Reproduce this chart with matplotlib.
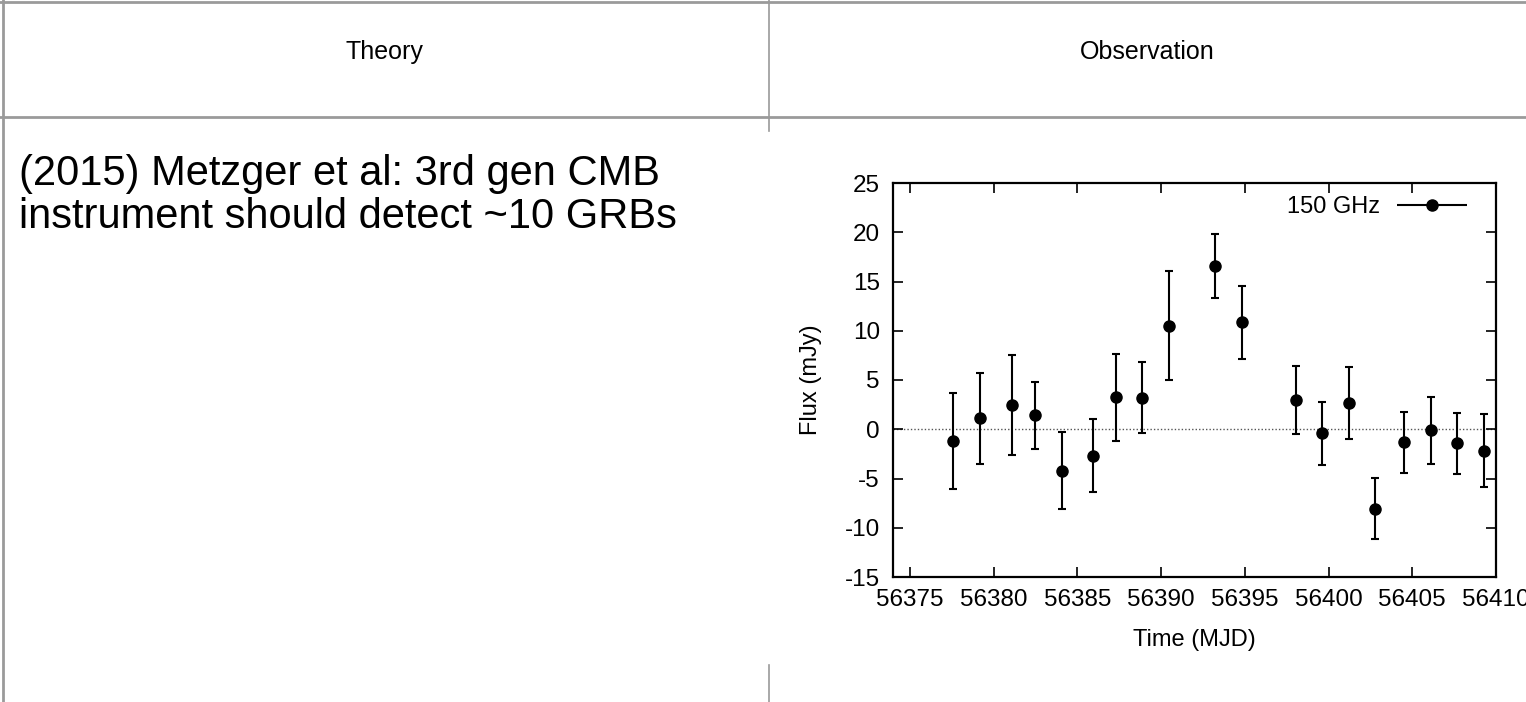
import matplotlib
matplotlib.use('agg')
import matplotlib.pyplot as plt
from matplotlib.lines import Line2D
from matplotlib.container import ErrorbarContainer
from matplotlib.legend_handler import HandlerErrorbar

plt.rcParams['axes.unicode_minus'] = False
plt.rcParams['font.family'] = ['Liberation Sans', 'DejaVu Sans']

# 150 GHz light curve
time_mjd = [56377.6, 56379.2, 56381.1, 56382.5, 56384.1, 56385.95, 56387.3, 56388.85,
            56390.5, 56393.25, 56394.85, 56398.05, 56399.6, 56401.2, 56402.8,
            56404.5, 56406.1, 56407.7, 56409.3]
flux_mjy = [-1.2, 1.1, 2.45, 1.4, -4.2, -2.7, 3.25, 3.2,
            10.5, 16.6, 10.85, 2.95, -0.4, 2.65, -8.05,
            -1.3, -0.1, -1.4, -2.2]
flux_err = [4.9, 4.65, 5.05, 3.4, 3.9, 3.7, 4.4, 3.6,
            5.55, 3.25, 3.7, 3.45, 3.2, 3.65, 3.1,
            3.1, 3.4, 3.1, 3.7]

x_ticks = [56375, 56380, 56385, 56390, 56395, 56400, 56405, 56410]
y_ticks = [-15, -10, -5, 0, 5, 10, 15, 20, 25]

W, H = 1526, 702
fig = plt.figure(figsize=(W / 100, H / 100), dpi=100)
fig.patch.set_facecolor('white')

def px(x, y):
    return x / W, 1 - y / H

# table grid
grid_c = '#9a9a9a'
def hline(y, x0, x1, lw=1.5):
    (a, b), (c, d) = px(x0, y), px(x1, y)
    fig.add_artist(Line2D([a, c], [b, d], color=grid_c, lw=lw, transform=fig.transFigure))

def vline(x, y0, y1, lw=1.5):
    (a, b), (c, d) = px(x, y0), px(x, y1)
    fig.add_artist(Line2D([a, c], [b, d], color=grid_c, lw=lw, transform=fig.transFigure))

hline(2, 0, W, lw=2)
hline(117, 0, W, lw=2)
vline(2.5, 0, H, lw=2)
vline(769, 0, 131, lw=1.2)
vline(769, 665, H, lw=1.2)

fig.text(*px(384, 52), 'Theory', ha='center', va='center', fontsize=18)
fig.text(*px(1147, 52), 'Observation', ha='center', va='center', fontsize=18)
fig.text(*px(19, 154), '(2015) Metzger et al: 3rd gen CMB\ninstrument should detect ~10 GRBs',
         ha='left', va='top', fontsize=30, linespacing=1.1)

# plot panel
l, b = px(893, 577)
r, t = px(1496, 183)
ax = fig.add_axes([l, b, r - l, t - b])
ax.set_facecolor('white')

ax.axhline(0, color='#555555', lw=1.0, ls=(0, (1, 1.5)), zorder=1)
ax.errorbar(time_mjd, flux_mjy, yerr=flux_err, fmt='o', color='black', ms=8,
            elinewidth=1.5, capsize=3, capthick=1.5, zorder=3)

# legend sample drawn as a horizontal error bar, gnuplot style
leg_h = ax.errorbar([], [], xerr=[], fmt='o', color='black', ms=8,
                    elinewidth=1.5, capsize=5, capthick=1.5)
ax.legend([leg_h], ['150 GHz'], loc='center right', bbox_to_anchor=(0.952, 0.939),
          frameon=False, markerfirst=False, numpoints=1, fontsize=17,
          handlelength=2.97, handletextpad=0.72, borderpad=0, borderaxespad=0,
          handler_map={ErrorbarContainer: HandlerErrorbar(xerr_size=1.48)})

ax.set_xlim(56374, 56410)
ax.set_ylim(-15, 25)
ax.set_xticks(x_ticks)
ax.set_yticks(y_ticks)
ax.ticklabel_format(useOffset=False, style='plain', axis='x')
ax.tick_params(direction='in', top=True, right=True, length=7, width=1.2,
               labelsize=17.5)
ax.tick_params(axis='y', pad=9.4)
ax.tick_params(axis='x', pad=8.5)
for s in ax.spines.values():
    s.set_linewidth(1.6)

ax.set_xlabel('Time (MJD)', fontsize=17, labelpad=13)
ax.set_ylabel('Flux (mJy)', fontsize=17, labelpad=16)

fig.savefig('out.png', dpi=100)
